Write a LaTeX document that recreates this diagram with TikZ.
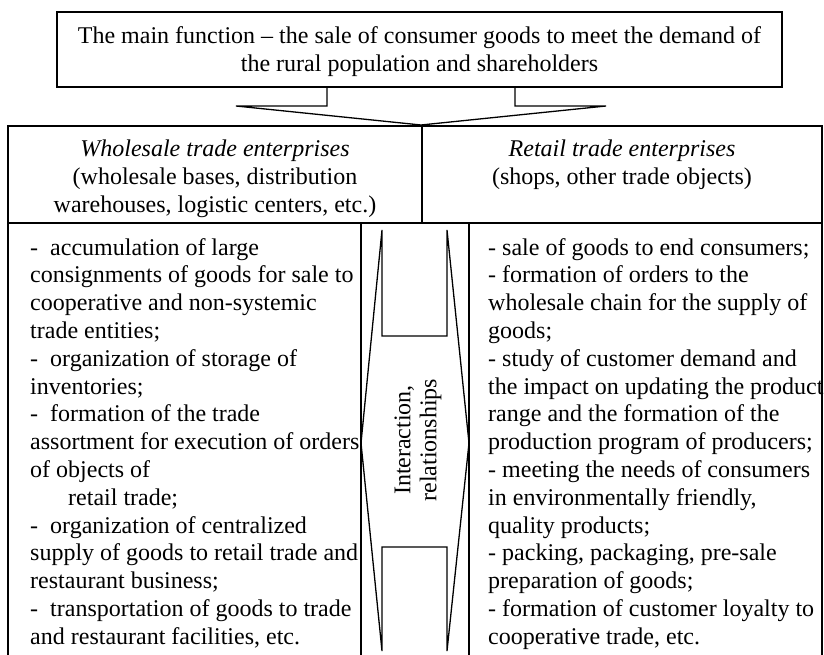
\documentclass[tikz,border=0pt]{standalone}
\usepackage{fontspec}
\setmainfont{Liberation Serif}
\begin{document}
\begin{tikzpicture}[x=1pt,y=-1pt,
  ln/.style={line width=1.3pt, line join=miter},
  txt/.style={inner sep=0pt, anchor=base west, font=\fontsize{24}{27.8}\selectfont},
  ctxt/.style={inner sep=0pt, anchor=base, font=\fontsize{24}{27.8}\selectfont}]
\useasboundingbox (0,0) rectangle (824,655);
\fill[white] (0,0) rectangle (824,655);

% top box
\node[draw, ln, minimum width=725pt, minimum height=75pt, inner sep=0pt] (topbox) at (419.5,49.5) {};
\node[ctxt] (t1) at (419.5,44) {The main function -- the sale of consumer goods to meet the demand of};
\node[ctxt] (t2) at (419.5,72) {the rural population and shareholders};

% arrow down from the top box
\coordinate (apex) at (421,125);
\draw[ln] (327,87) -- (327,106) -- (236,106) -- (apex) -- (606,106) -- (515,106) -- (515,87);

% table frame
\draw[ln] (8,660) -- (8,126) -- (822,126) -- (822,660);
\draw[ln] (8,223) -- (822,223);
\draw[ln] (422,126) -- (422,223);
\draw[ln] (361,223) -- (361,660);
\draw[ln] (469,223) -- (469,660);

% headers
\node[ctxt] (h1) at (215,157) {\itshape Wholesale trade enterprises};
\node[ctxt] (h2) at (215,184.5) {(wholesale bases, distribution};
\node[ctxt] (h3) at (215,212) {warehouses, logistic centers, etc.)};
\node[ctxt] (h4) at (622,157) {\itshape Retail trade enterprises};
\node[ctxt] (h5) at (622,184.5) {(shops, other trade objects)};

% double arrow in the middle column
\draw[ln] (382,230) -- (382,336) -- (447,336) -- (447,230) -- (469,443) -- (447,651)
  -- (447,547) -- (382,547) -- (382,651) -- (361,443) -- cycle;
\node[rotate=90, align=center, inner sep=0pt, font=\fontsize{24}{26}\selectfont] (inter) at (418,440) {Interaction,\\relationships};

% left column
\foreach \t [count=\i] in {
  {-\ \ accumulation of large},
  {consignments of goods for sale to},
  {cooperative and non-systemic},
  {trade entities;},
  {-\ \ organization of storage of},
  {inventories;},
  {-\ \ formation of the trade},
  {assortment for execution of orders},
  {of objects of},
  {\hspace*{38pt}retail trade;},
  {-\ \ organization of centralized},
  {supply of goods to retail trade and},
  {restaurant business;},
  {-\ \ transportation of goods to trade},
  {and restaurant facilities, etc.}}
  \node[txt] (L\i) at (30,{255+(\i-1)*27.8}) {\t};

% right column
\foreach \t [count=\i] in {
  {- sale of goods to end consumers;},
  {- formation of orders to the},
  {wholesale chain for the supply of},
  {goods;},
  {- study of customer demand and},
  {the impact on updating the product},
  {range and the formation of the},
  {production program of producers;},
  {- meeting the needs of consumers},
  {in environmentally friendly,},
  {quality products;},
  {- packing, packaging, pre-sale},
  {preparation of goods;},
  {- formation of customer loyalty to},
  {cooperative trade, etc.}}
  \node[txt] (R\i) at (488,{255+(\i-1)*27.8}) {\t};
\end{tikzpicture}
\end{document}
